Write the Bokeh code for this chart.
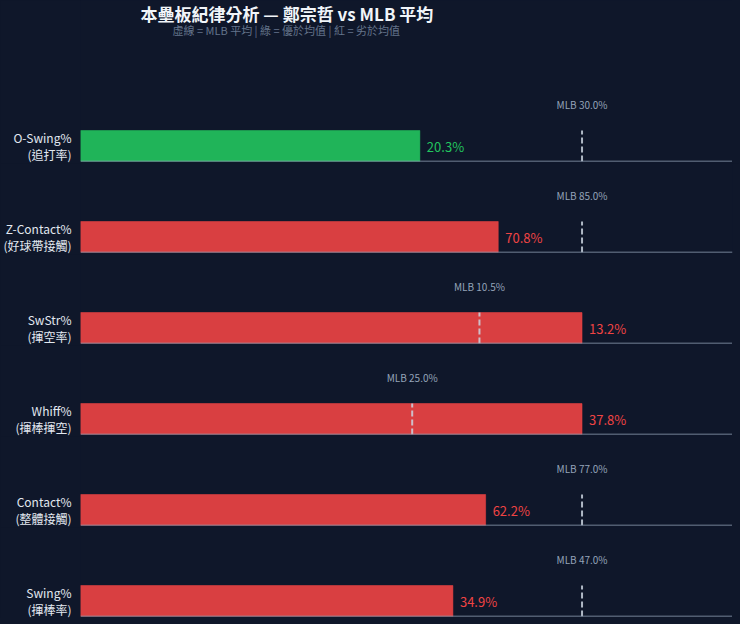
from bokeh.plotting import figure
from bokeh.layouts import column
from bokeh.models import Range1d, FixedTicker, Span, Label, ColumnDataSource
from bokeh.core.properties import value
from bokeh.embed import file_html
from bokeh.resources import INLINE

# ---- data ----
metrics = ["O-Swing%", "Z-Contact%", "SwStr%", "Whiff%", "Contact%", "Swing%"]
names_zh = ["追打率", "好球帶接觸", "揮空率", "揮棒揮空", "整體接觸", "揮棒率"]
player_vals = [20.3, 70.8, 13.2, 37.8, 62.2, 34.9]
mlb_vals = [30.0, 85.0, 10.5, 25.0, 77.0, 47.0]
better = [True, False, False, False, False, False]

title_text = "本壘板紀律分析 — 鄭宗哲 vs MLB 平均"
subtitle_text = "虛線 = MLB 平均 | 綠 = 優於均值 | 紅 = 劣於均值"

BG = "#0f172a"
GREEN = "#22c55e"
RED = "#ef4444"
AXIS = "#94a3b8"
FONT = "Noto Sans CJK TC"

PX = 31.0          # pixels per bar unit
FW = 652
LEFT = 73
RIGHT = 7

figs = []
for i, (m, zh, v, mv, good) in enumerate(zip(metrics, names_zh, player_vals, mlb_vals, better)):
    first = i == 0
    fh = 161 if first else 89
    p = figure(frame_width=FW, frame_height=fh, output_backend="svg", toolbar_location=None,
               x_range=Range1d(0, max(v, mv) * 1.3), y_range=Range1d(0, fh / PX),
               min_border_left=LEFT, min_border_right=RIGHT,
               min_border_top=0, min_border_bottom=2,
               background_fill_color=BG, border_fill_color=BG, outline_line_color=None)
    p.grid.visible = False
    p.xaxis.visible = False
    color = GREEN if good else RED
    src = ColumnDataSource(dict(y=[0.5], right=[v], mlb=[mv], lab=[f"{v:.1f}%"],
                                mlab=[f"MLB {mv:.1f}%"]))
    p.hbar(y="y", right="right", left=0, height=1.0, source=src,
           fill_color=color, fill_alpha=0.9, line_color=color, line_alpha=0.5, line_width=1)
    p.segment(x0="mlb", x1="mlb", y0=0, y1=1.0, source=src,
              line_color="#cbd5e1", line_alpha=0.85, line_width=2, line_dash="6 3")
    p.text(x="right", y="y", text="lab", source=src, x_offset=7,
           text_color=color, text_font_size="13px", text_align="left",
           text_baseline="middle", text_font=value(FONT))
    p.text(x="mlb", y=1.84, text="mlab", source=src,
           text_color=AXIS, text_font_size="10px", text_align="center",
           text_baseline="middle", text_font=value(FONT))
    p.add_layout(Span(location=0, dimension="width", line_color=AXIS, line_width=1.5))
    ax = p.yaxis[0]
    ax.ticker = FixedTicker(ticks=[0.5])
    ax.major_label_overrides = {0.5: f"{m}\n({zh})"}
    ax.axis_line_color = None
    ax.major_tick_line_color = None
    ax.minor_tick_line_color = None
    ax.major_label_standoff = 3
    ax.major_label_text_color = "#e2e8f0"
    ax.major_label_text_font_size = "12px"
    ax.major_label_text_font = FONT
    ax.major_label_text_align = "right"
    ax.major_label_text_line_height = 1.0
    if first:
        p.add_layout(Label(x=60, y=148, x_units="screen", y_units="screen", text=title_text,
                           text_font_size="17px", text_font=FONT, text_font_style="bold",
                           text_color="#f1f5f9", text_baseline="middle", text_align="left"))
        p.add_layout(Label(x=92, y=132, x_units="screen", y_units="screen", text=subtitle_text,
                           text_font_size="11px", text_font=FONT, text_color="#64748b",
                           text_baseline="middle", text_align="left"))
    figs.append(p)

layout = column(*figs, spacing=0, styles={"background-color": BG})
html = file_html(layout, INLINE)
html = html.replace("<head>", "<head><style>body{background:%s;}</style>" % BG, 1)
open("out.html", "w").write(html)
